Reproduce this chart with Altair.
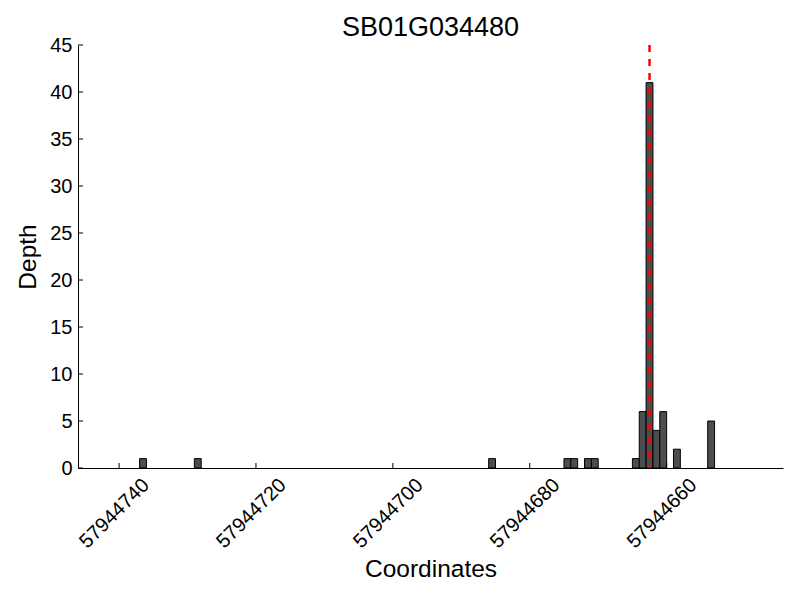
import altair as alt
import pandas as pd

title_text = "SB01G034480"
coords = [57944736, 57944728, 57944685, 57944674, 57944673, 57944671, 57944670,
          57944664, 57944663, 57944662, 57944661, 57944660, 57944658, 57944653]
depths = [1, 1, 1, 1, 1, 1, 1, 1, 6, 41, 4, 6, 2, 5]
x_ticks = [57944740, 57944720, 57944700, 57944680, 57944660]
y_ticks = [0, 5, 10, 15, 20, 25, 30, 35, 40, 45]
marker_pos = [57944662.5]
x_domain = [57944643, 57944746]
y_domain = [0, 45]

W, H = 705, 423
FONT = "Liberation Sans"

bars_df = pd.DataFrame({"start": coords, "end": [c + 1 for c in coords], "depth": depths})
xt_df = pd.DataFrame({"start": x_ticks})
yt_df = pd.DataFrame({"depth": y_ticks})
mk_df = pd.DataFrame({"start": marker_pos, "depth": [y_domain[1]], "bot": [0]})

xscale = alt.Scale(domain=x_domain, reverse=True, zero=False, nice=False)
yscale = alt.Scale(domain=y_domain, nice=False, zero=True)

xaxis = alt.Axis(values=x_ticks, format="d", ticks=False, tickSize=0, grid=False,
                 labelAngle=-45, labelAlign="center", labelBaseline="middle",
                 labelPadding=45, labelOffset=-5, labelFontSize=20, labelFont=FONT,
                 labelColor="black", title="Coordinates", titleFontSize=24.5,
                 titleFont=FONT, titleFontWeight="normal", titleColor="black",
                 titleY=108, titleBaseline="alphabetic",
                 domainColor="black", domainWidth=1, labelFlush=False)
yaxis = alt.Axis(values=y_ticks, ticks=False, tickSize=0, grid=False,
                 labelPadding=6, labelFontSize=20, labelFont=FONT, labelColor="black",
                 title="Depth", titleFontSize=24.5, titleFont=FONT,
                 titleFontWeight="normal", titleColor="black",
                 titleX=-43, titleBaseline="alphabetic", titleAngle=-90,
                 domainColor="black", domainWidth=1, labelFlush=False)

X = alt.X("start:Q", scale=xscale, axis=xaxis)
Y = alt.Y("depth:Q", scale=yscale, axis=yaxis)

bars = alt.Chart(bars_df).mark_rect(fill="#4d4d4d", stroke="black", strokeWidth=1).encode(
    x=X, x2="end:Q", y=Y, y2=alt.datum(0),
)

xticks_layer = alt.Chart(xt_df).mark_rule(color="black", strokeWidth=1).encode(
    x=X, y=alt.value(H), y2=alt.value(H - 5),
)
yticks_layer = alt.Chart(yt_df).mark_rule(color="black", strokeWidth=1).encode(
    y=Y, x=alt.value(0), x2=alt.value(5),
)

marker = alt.Chart(mk_df).mark_rule(color="#ff0000", strokeWidth=2.5, strokeDash=[7, 7]).encode(
    x=X, y=Y, y2="bot:Q",
)

chart = alt.layer(bars, xticks_layer, yticks_layer, marker).properties(
    width=W, height=H,
    title=alt.TitleParams(title_text, fontSize=27, font=FONT, fontWeight="normal",
                          color="black", anchor="middle", offset=5, dy=12),
    autosize=alt.AutoSizeParams(type="none"),
    padding={"left": 70, "top": 37, "right": 9, "bottom": 124},
    background="white",
).configure_view(stroke=None)

chart.save("out.html", embed_options={"renderer": "svg", "actions": False})
